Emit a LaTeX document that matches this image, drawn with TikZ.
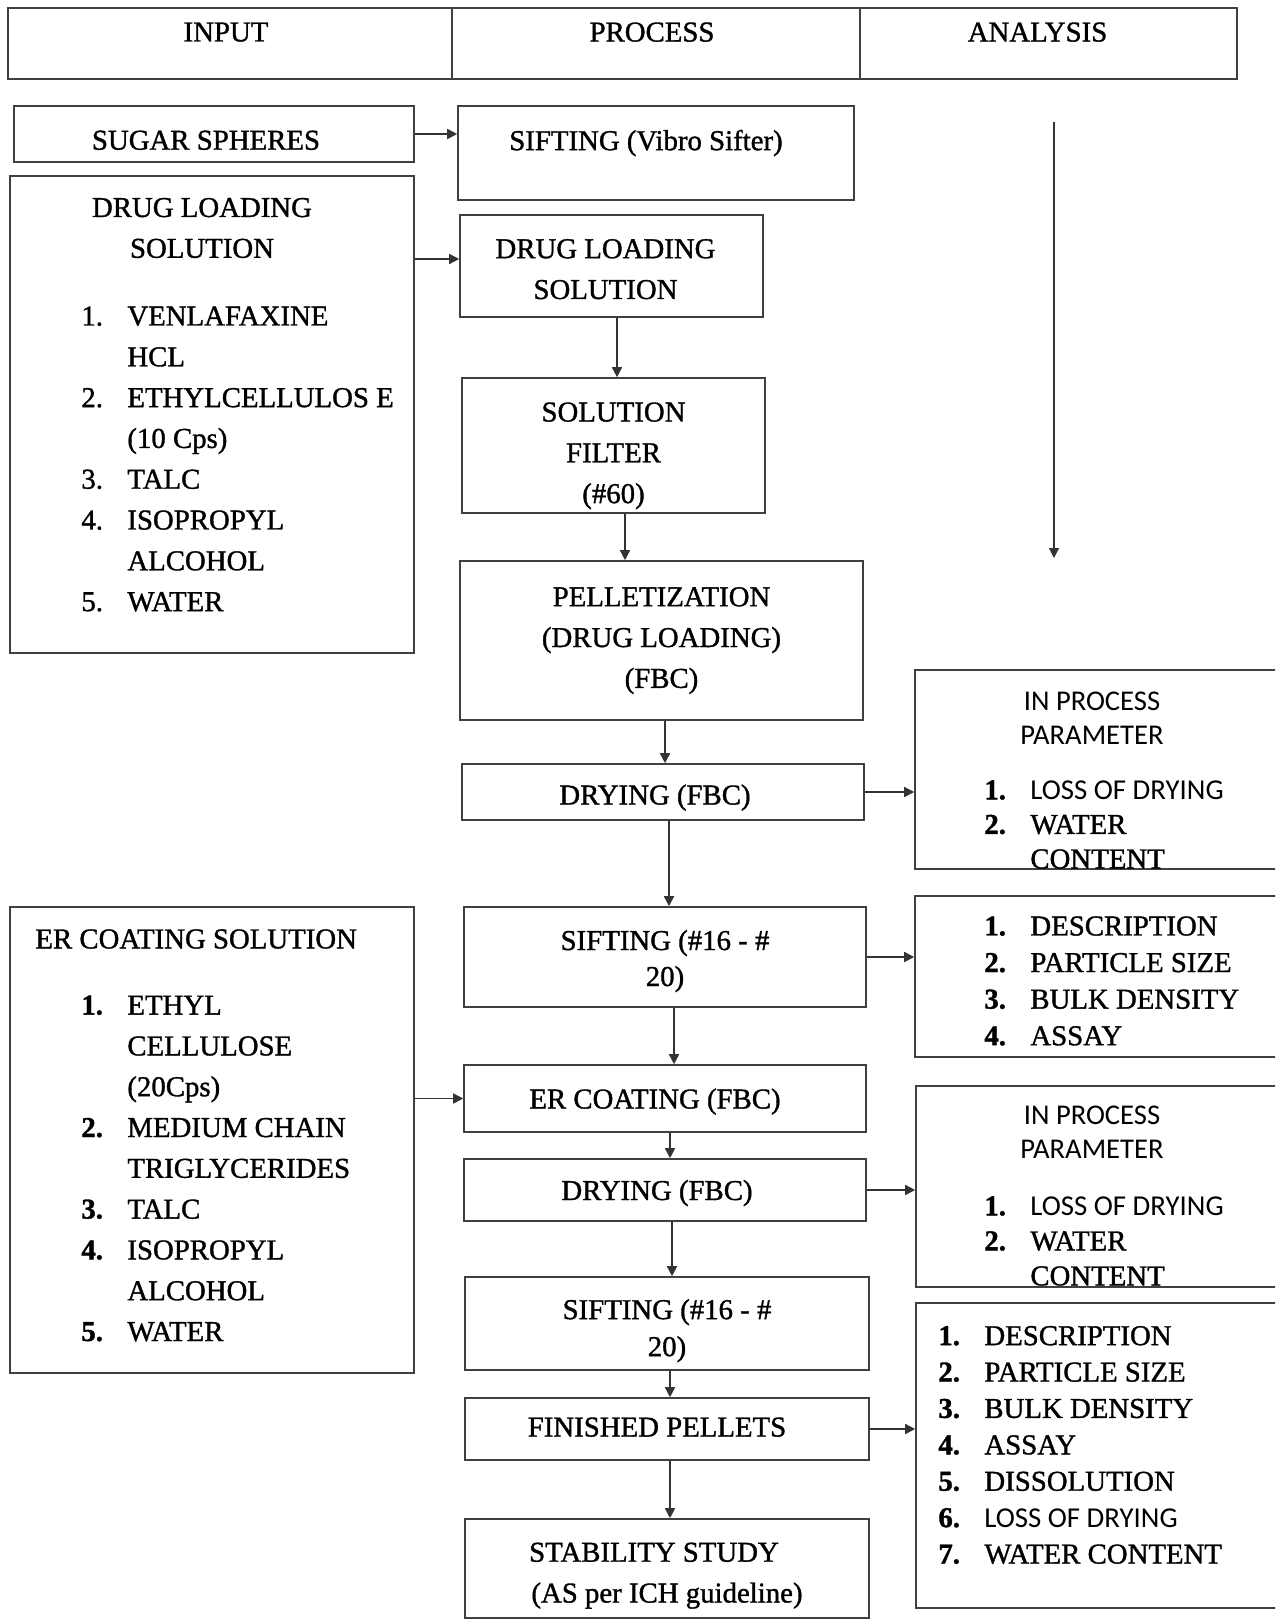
\documentclass[tikz,border=0pt]{standalone}
\usepackage{fontspec}
\setmainfont{Liberation Serif}[FakeBold=1.2]
\newfontfamily\sansf{Carlito}
\usetikzlibrary{positioning,calc,arrows.meta}
\tikzset{BOX/.style={rectangle,draw=black!75,line width=0.8pt,align=center,inner sep=0pt,text depth=0pt}}
\tikzset{TXT/.style={inner sep=0pt,align=left}}
\tikzset{ARROW/.style={line width=0.8pt,draw=black!80,-{Triangle[length=5pt,width=5pt]}}}
\newcommand{\itm}[1]{\makebox[23pt][l]{#1}}
\newcommand{\bitm}[1]{\makebox[23pt][l]{\textbf{#1}}}

\begin{document}
\begin{tikzpicture}[x=0.5pt,y=-0.5pt,font=\fontsize{14.4}{20.4}\selectfont]

\useasboundingbox (0,0) rectangle (1275,1621);
\clip (0,0) rectangle (1275,1621);

% header
\node[BOX, minimum width=222pt, minimum height=35.5pt, text depth=11.5pt] (h_input) at (230,43.5) {INPUT\kern4pt};
\node[BOX, minimum width=204pt, minimum height=35.5pt, text depth=11.5pt] (h_process) at (656,43.5) {PROCESS\kern4pt};
\node[BOX, minimum width=188.5pt, minimum height=35.5pt, text depth=11.5pt] (h_analysis) at (1048.5,43.5) {ANALYSIS\kern11pt};

% input column
\node[BOX, minimum width=200pt, minimum height=28pt, text height=15.7pt] (n_sugar) at (214,134) {SUGAR SPHERES\kern8pt};

\node[BOX, minimum width=202pt, minimum height=238.5pt] (n_dls_in) at (212,414.5) {};
\node[TXT, align=center] (t_dls_in) at (202,228) {DRUG LOADING\\SOLUTION};
\node[TXT, anchor=west] (l_dls_in) at (81,459) {
    \itm{1.}VENLAFAXINE\\
    \itm{}HCL\\
    \itm{2.}ETHYLCELLULOS E\\
    \itm{}(10 Cps)\\
    \itm{3.}TALC\\
    \itm{4.}ISOPROPYL\\
    \itm{}ALCOHOL\\
    \itm{5.}WATER
};

\node[BOX, minimum width=202pt, minimum height=233pt] (n_er_in) at (212,1140) {};
\node[TXT, anchor=west] (t_er_in) at (35,939) {ER COATING SOLUTION};
\node[TXT, anchor=west] (l_er_in) at (81,1168.5) {
    \bitm{1.}ETHYL\\
    \itm{}CELLULOSE\\
    \itm{}(20Cps)\\
    \bitm{2.}MEDIUM CHAIN\\
    \itm{}TRIGLYCERIDES\\
    \bitm{3.}TALC\\
    \bitm{4.}ISOPROPYL\\
    \itm{}ALCOHOL\\
    \bitm{5.}WATER
};

% process column
\node[BOX, minimum width=198pt, minimum height=47pt, text depth=13pt] (n_sift) at (656,153) {SIFTING (Vibro Sifter)\kern10pt};
\node[BOX, minimum width=151.5pt, minimum height=51pt, text height=33pt] (n_dls) at (611.5,266) {DRUG LOADING\kern6pt\\SOLUTION\kern6pt};
\node[BOX, minimum width=151.5pt, minimum height=67.5pt, text height=57.6pt] (n_filter) at (613.5,445.5) {SOLUTION\\FILTER\\(\#60)};
\node[BOX, minimum width=201.5pt, minimum height=79.5pt, text depth=3pt] (n_pellet) at (661.5,640.5) {PELLETIZATION\\(DRUG LOADING)\\(FBC)};
\node[BOX, minimum width=201pt, minimum height=28pt, text height=12.5pt] (n_dry1) at (663,792) {DRYING (FBC)\kern8pt};
\node[BOX, minimum width=201pt, minimum height=50pt, text height=29pt, font=\fontsize{14.4}{18}\selectfont] (n_sift1) at (665,957) {SIFTING (\#16 - \#\\20)};
\node[BOX, minimum width=201pt, minimum height=33.5pt] (n_er) at (665,1098.5) {ER COATING (FBC)\kern10pt};
\node[BOX, minimum width=201pt, minimum height=31pt] (n_dry2) at (665,1190) {DRYING (FBC)\kern8pt};
\node[BOX, minimum width=202pt, minimum height=46.5pt, text height=32.6pt, font=\fontsize{14.4}{18.5}\selectfont] (n_sift2) at (667,1323.5) {SIFTING (\#16 - \#\\20)};
\node[BOX, minimum width=202pt, minimum height=31pt, text depth=2pt] (n_pellets) at (667,1429) {FINISHED PELLETS\kern10pt};
\node[BOX, minimum width=202pt, minimum height=49.5pt, text height=34pt] (n_stab) at (667,1568.5) {STABILITY STUDY\kern13pt\\(AS per ICH guideline)};

% analysis column
\node[BOX, minimum width=187.5pt, minimum height=99.5pt] (n_ipp1) at (1102.5,769.5) {};
\node[TXT, align=center, font=\sansf\fontsize{14.3}{17}\selectfont] (t_ipp1) at (1092,718) {IN PROCESS\\PARAMETER};
\node[TXT, anchor=west, font=\fontsize{14.4}{17.25}\selectfont] (l_ipp1) at (984,824.5) {
    \bitm{1.}{\sansf LOSS OF DRYING}\\
    \bitm{2.}WATER\\
    \itm{}CONTENT
};

\node[BOX, minimum width=187.5pt, minimum height=80.5pt] (n_an1) at (1102.5,976.5) {};
\node[TXT, anchor=west, font=\fontsize{14.4}{18.3}\selectfont] (l_an1) at (984,981) {
    \bitm{1.}DESCRIPTION\\
    \bitm{2.}PARTICLE SIZE\\
    \bitm{3.}BULK DENSITY\\
    \bitm{4.}ASSAY
};

\node[BOX, minimum width=187pt, minimum height=100.5pt] (n_ipp2) at (1103,1186.5) {};
\node[TXT, align=center, font=\sansf\fontsize{14.3}{17}\selectfont] (t_ipp2) at (1092,1132.5) {IN PROCESS\\PARAMETER};
\node[TXT, anchor=west, font=\fontsize{14.4}{17.5}\selectfont] (l_ipp2) at (984,1241) {
    \bitm{1.}{\sansf LOSS OF DRYING}\\
    \bitm{2.}WATER\\
    \itm{}CONTENT
};

\node[BOX, minimum width=187pt, minimum height=152.5pt] (n_an2) at (1103,1455.5) {};
\node[TXT, anchor=west, font=\fontsize{14.4}{18.2}\selectfont] (l_an2) at (938,1445) {
    \bitm{1.}DESCRIPTION\\
    \bitm{2.}PARTICLE SIZE\\
    \bitm{3.}BULK DENSITY\\
    \bitm{4.}ASSAY\\
    \bitm{5.}DISSOLUTION\\
    \bitm{6.}{\sansf LOSS OF DRYING}\\
    \bitm{7.}WATER CONTENT
};

\coordinate (c_an_top) at (1054,122);
\coordinate (c_an_end) at (1054,558);
\draw[ARROW, line width=0.6pt] (c_an_top) -- (c_an_end);

% inputs into process
\draw[ARROW] (n_sugar.east) -- (n_sugar.east -| n_sift.west);
\draw[ARROW] ([yshift=3.5pt]n_dls.west -| n_dls_in.east) -- ([yshift=3.5pt]n_dls.west);
\draw[ARROW] (n_er.west -| n_er_in.east) -- (n_er.west);

% process chain
\draw[ARROW] ([xshift=2.75pt]n_dls.south) -- ([xshift=2.75pt]n_dls.south |- n_filter.north);
\draw[ARROW] ([xshift=5.75pt]n_filter.south) -- ([xshift=5.75pt]n_filter.south |- n_pellet.north);
\draw[ARROW] ([xshift=1.75pt]n_pellet.south) -- ([xshift=1.75pt]n_pellet.south |- n_dry1.north);
\draw[ARROW] ([xshift=3pt]n_dry1.south) -- ([xshift=3pt]n_dry1.south |- n_sift1.north);
\draw[ARROW] ([xshift=4.5pt]n_sift1.south) -- ([xshift=4.5pt]n_sift1.south |- n_er.north);
\draw[ARROW] ([xshift=2.5pt]n_er.south) -- ([xshift=2.5pt]n_er.south |- n_dry2.north);
\draw[ARROW] ([xshift=3.5pt]n_dry2.south) -- ([xshift=3.5pt]n_dry2.south |- n_sift2.north);
\draw[ARROW] ([xshift=1.5pt]n_sift2.south) -- ([xshift=1.5pt]n_sift2.south |- n_pellets.north);
\draw[ARROW] ([xshift=1.5pt]n_pellets.south) -- ([xshift=1.5pt]n_pellets.south |- n_stab.north);

% process into analysis
\draw[ARROW] (n_dry1.east) -- (n_dry1.east -| n_ipp1.west);
\draw[ARROW] (n_sift1.east) -- (n_sift1.east -| n_an1.west);
\draw[ARROW] (n_dry2.east) -- (n_dry2.east -| n_ipp2.west);
\draw[ARROW] (n_pellets.east) -- (n_pellets.east -| n_an2.west);

\end{tikzpicture}
\end{document}
